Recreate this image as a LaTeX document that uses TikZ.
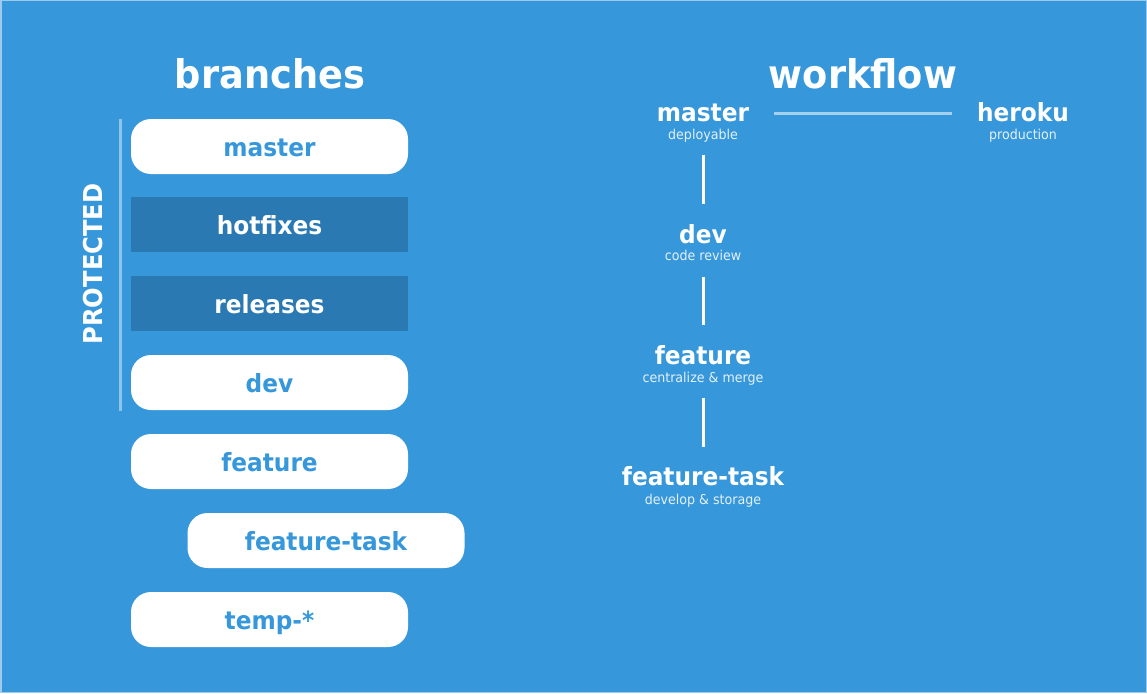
\documentclass[tikz,border=0pt]{standalone}
\usepackage{fontspec}
\setmainfont{DejaVu Sans}[FakeStretch=0.93]
\usetikzlibrary{calc}
\definecolor{bg}{HTML}{3698DB}
\definecolor{darkbox}{HTML}{2A79B3}
\definecolor{rulecol}{HTML}{8EC3EA}
\definecolor{linkcol}{HTML}{A4D0F0}
\definecolor{soft}{HTML}{E4F0FA}
\definecolor{edgecol}{HTML}{9CCBEE}
\begin{document}
\begin{tikzpicture}[x=1pt,y=-1pt,
  heading/.style={anchor=base, inner sep=0pt, text=white, font=\bfseries\fontsize{39.5}{44}\selectfont},
  boxbase/.style={minimum width=277pt, minimum height=55pt, inner sep=0pt,
    text height=19pt, text depth=0pt, font=\bfseries\fontsize{25}{28}\selectfont},
  lightbox/.style={boxbase, rounded corners=20pt, fill=white, text=bg},
  darkrect/.style={boxbase, fill=darkbox, text=white},
  wtitle/.style={anchor=base, inner sep=0pt, text=white, font=\bfseries\fontsize{25}{28}\selectfont},
  wsub/.style={anchor=base, inner sep=0pt, text=soft, font=\fontsize{13.6}{16}\selectfont},
  wline/.style={draw=white, line width=3pt},
  hline/.style={draw=linkcol, line width=3pt}]

% canvas
\fill[bg] (0,0) rectangle (1147,693);
\draw[edgecol, line width=1.5pt] (0.75,0.75) rectangle (1146.25,692.25);
\useasboundingbox (0,0) rectangle (1147,693);

% ---- branches column ----
\node[heading] (branches) at (270,88) {branches};

\node[lightbox] (bmaster)   at (269.5,146.5) {master};
\node[darkrect] (bhotfix)   at (269.5,224.5) {hotfixes};
\node[darkrect] (brelease)  at (269.5,303.5) {releases};
\node[lightbox] (bdev)      at (269.5,382.5) {dev};
\node[lightbox] (bfeature)  at (269.5,461.5) {feature};
\node[lightbox] (bftask)    at (326,540.5)   {feature-task};
\node[lightbox] (btemp)     at (269.5,619.5) {temp-*};

% protected group marker
\coordinate (ptop) at (120,119);
\coordinate (pbot) at (120,411);
\draw[rulecol, line width=3pt] (ptop) -- (pbot);
\node[rotate=90, inner sep=0pt, text=white, font=\bfseries\fontsize{26}{30}\selectfont] (protected) at (93,264) {PROTECTED};

% ---- workflow column ----
\node[heading] (workflow) at (863,88) {workflow};

\node[wtitle] (wmaster) at (703,121.7) {master};
\node[wsub]   (wmastersub) at (703,139) {deployable};
\node[wtitle] (wheroku) at (1023,121.7) {heroku};
\node[wsub]   (wherokusub) at (1023,139) {production};
\node[wtitle] (wdev) at (703,243) {dev};
\node[wsub]   (wdevsub) at (703,260) {code review};
\node[wtitle] (wfeature) at (703,364) {feature};
\node[wsub]   (wfeaturesub) at (703,382.7) {centralize \& merge};
\node[wtitle] (wtask) at (703,485.7) {feature-task};
\node[wsub]   (wtasksub) at (703,504) {develop \& storage};

% connectors
\draw[hline, shorten <=25pt, shorten >=25pt] (wmaster.east) -- (wmaster.east -| wheroku.west);
\draw[wline, shorten <=12.7pt, shorten >=19.5pt] (wmastersub) -- (wdev);
\draw[wline, shorten <=17pt, shorten >=19.5pt] (wdevsub) -- (wfeature);
\draw[wline, shorten <=12pt, shorten >=20pt] (wfeaturesub) -- (wtask);
\end{tikzpicture}
\end{document}
